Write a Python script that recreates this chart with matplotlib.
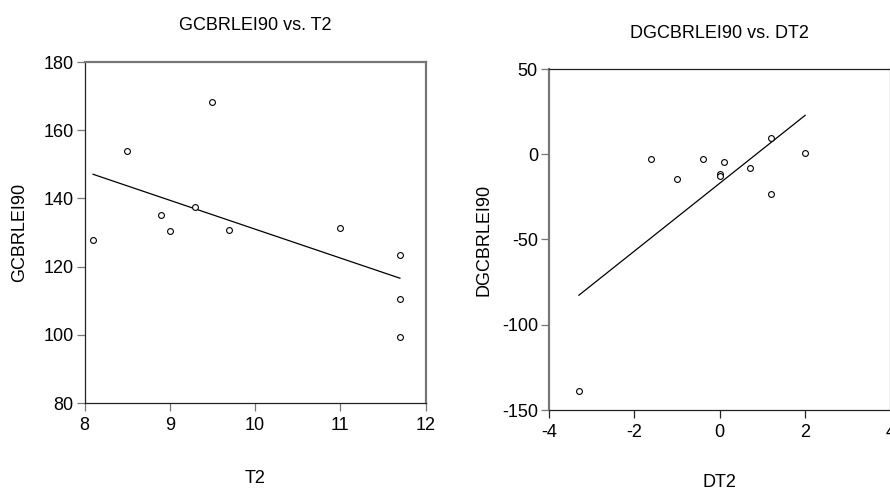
import numpy as np
import matplotlib
matplotlib.use("Agg")
import matplotlib.pyplot as plt

plt.rcParams['font.family'] = ['Liberation Sans', 'DejaVu Sans']
plt.rcParams['axes.unicode_minus'] = False

# Levels: T2 vs GCBRLEI90
t2 = [8.1, 8.5, 8.9, 9.0, 9.3, 9.5, 9.7, 11.0, 11.7, 11.7, 11.7]
gcbrlei90 = [127.8, 154.0, 135.1, 130.5, 137.5, 168.4, 130.8, 131.4, 123.3, 110.4, 99.3]

# Differences: DT2 vs DGCBRLEI90
dt2 = [-3.3, -1.6, -1.0, -0.4, 0.0, 0.0, 0.1, 0.7, 1.2, 1.2, 2.0]
dgcbrlei90 = [-138.6, -3.0, -14.4, -2.6, -11.3, -13.0, -4.8, -8.1, 9.5, -23.2, 0.7]

left_xticks = [8, 9, 10, 11, 12]
left_yticks = [80, 100, 120, 140, 160, 180]
right_xticks = [-4, -2, 0, 2, 4]
right_yticks = [-150, -100, -50, 0, 50]

W, H = 890, 490
fig = plt.figure(figsize=(W / 100, H / 100), dpi=100)

FS = 13
DARK = '#222222'
GREY = '#777777'


def px_axes(x0, x1, y0, y1):
    return fig.add_axes([x0 / W, 1 - y1 / H, (x1 - x0) / W, (y1 - y0) / H])


def scatter_fit(ax, x, y):
    x = np.asarray(x)
    y = np.asarray(y)
    ax.plot(x, y, linestyle='none', marker='o', markersize=4.2,
            markerfacecolor='white', markeredgecolor='black',
            markeredgewidth=0.8, zorder=3)
    slope, intercept = np.polyfit(x, y, 1)
    xs = np.array([x.min(), x.max()])
    ax.plot(xs, intercept + slope * xs, color='black', linewidth=0.9, zorder=2)


def style(ax, grey_sides, dark_sides):
    for s in grey_sides:
        ax.spines[s].set_color(GREY)
        ax.spines[s].set_linewidth(1.6)
    for s in dark_sides:
        ax.spines[s].set_color(DARK)
        ax.spines[s].set_linewidth(0.9)
    ax.tick_params(direction='out', length=6, width=0.9, labelsize=FS,
                   colors=DARK, pad=4)
    ax.tick_params(axis='y', pad=2)


# Left panel
axL = px_axes(84.5, 425.5, 62, 403)
scatter_fit(axL, t2, gcbrlei90)
axL.set_xlim(8, 12)
axL.set_ylim(80, 180)
axL.set_xticks(left_xticks)
axL.set_yticks(left_yticks)
style(axL, ['top', 'right'], ['left', 'bottom'])
axL.tick_params(axis='y', colors=GREY, labelcolor='black')
axL.tick_params(axis='x', colors=GREY, labelcolor='black')
fig.text(255 / W, 1 - 25 / H, 'GCBRLEI90 vs. T2', ha='center', va='center', fontsize=FS)
fig.text(255 / W, 1 - 478 / H, 'T2', ha='center', va='center', fontsize=FS)
fig.text(20 / W, 1 - 232 / H, 'GCBRLEI90', ha='center', va='center',
         rotation=90, fontsize=FS)

# Right panel
axR = px_axes(549, 890.5, 69, 410)
scatter_fit(axR, dt2, dgcbrlei90)
axR.set_xlim(-4, 4)
axR.set_ylim(-150, 50)
axR.set_xticks(right_xticks)
axR.set_yticks(right_yticks)
style(axR, ['left', 'right'], ['top', 'bottom'])
axR.tick_params(axis='y', colors=GREY, labelcolor='black')
axR.tick_params(axis='x', colors=DARK, labelcolor='black')
fig.text(719 / W, 1 - 33 / H, 'DGCBRLEI90 vs. DT2', ha='center', va='center', fontsize=FS)
fig.text(719 / W, 1 - 482 / H, 'DT2', ha='center', va='center', fontsize=FS)
fig.text(484 / W, 1 - 240 / H, 'DGCBRLEI90', ha='center', va='center',
         rotation=90, fontsize=FS)

fig.savefig('out.png', dpi=100, facecolor='white')
